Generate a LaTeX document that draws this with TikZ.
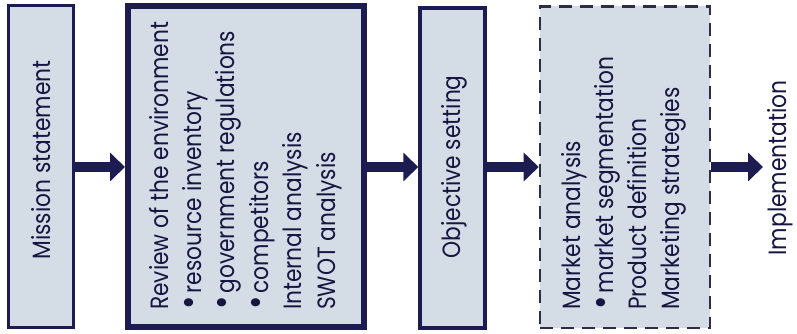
\documentclass[tikz,border=0pt]{standalone}
\usepackage{fontspec}
\usepackage{graphicx}
\setmainfont{Poppins}[FakeStretch=0.87]
\usetikzlibrary{arrows.meta}
\definecolor{navy}{RGB}{28,28,82}
\definecolor{boxfill}{RGB}{212,221,229}
\definecolor{dashc}{RGB}{45,45,70}
\newcommand{\bul}{\scalebox{1.5}{\textbullet}\hspace{3pt}}
\begin{document}
\begin{tikzpicture}[x=1pt,y=1pt,
  boxbase/.style={rectangle, fill=boxfill, inner sep=0pt},
  thinbox/.style={boxbase, draw=navy, line width=3pt},
  thickbox/.style={boxbase, draw=navy, line width=6pt},
  dashbox/.style={boxbase, draw=dashc, line width=2.6pt, dash pattern=on 13pt off 8pt},
  rtext/.style={rotate=90, inner sep=0pt, font=\fontsize{25}{29}\selectfont, text=navy!80!black},
  linetext/.style={rtext, anchor=base west},
  arr/.style={draw=navy, line width=10pt, -{Triangle[length=15pt,width=28pt]}}
]
\useasboundingbox[fill=white] (0,0) rectangle (797,333);
% boxes
\node[thinbox, minimum width=65pt, minimum height=321.5pt] (b1) at (41,166.75) {};
\node[thickbox, minimum width=236pt, minimum height=321pt] (b2) at (246,166.5) {};
\node[thinbox, line width=3.5pt, minimum width=65pt, minimum height=320pt] (b3) at (452.5,165) {};
\node[dashbox, minimum width=170pt, minimum height=321.5pt] (b4) at (625,165.75) {};
% texts
\node[rtext, anchor=base] (t1) at (50,173) {Mission statement};
\node[linetext] (t2a) at (168,23) {Review of the environment};
\node[linetext] (t2b) at (201.4,23) {\bul resource inventory};
\node[linetext] (t2c) at (234.8,23) {\bul government regulations};
\node[linetext] (t2d) at (268.2,23) {\bul competitors};
\node[linetext] (t2e) at (301.6,23) {Internal analysis};
\node[linetext] (t2f) at (335,23) {SWOT analysis};
\node[rtext, anchor=base] (t3) at (460,166) {Objective setting};
\node[linetext] (t4a) at (580,23) {Market analysis};
\node[linetext] (t4b) at (613,23) {\bul market segmentation};
\node[linetext] (t4c) at (646,23) {Product definition};
\node[linetext] (t4d) at (679,23) {Marketing strategies};
\node[rtext, anchor=base] (t5) at (786,165) {Implementation};
% arrows
\coordinate (ay) at (0,166);
\coordinate (end) at (763,166);
\draw[arr] (b1.east |- ay) -- (b2.west |- ay);
\draw[arr] (b2.east |- ay) -- (b3.west |- ay);
\draw[arr] (b3.east |- ay) -- (b4.west |- ay);
\draw[arr] (b4.east |- ay) -- (end);
\end{tikzpicture}
\end{document}
